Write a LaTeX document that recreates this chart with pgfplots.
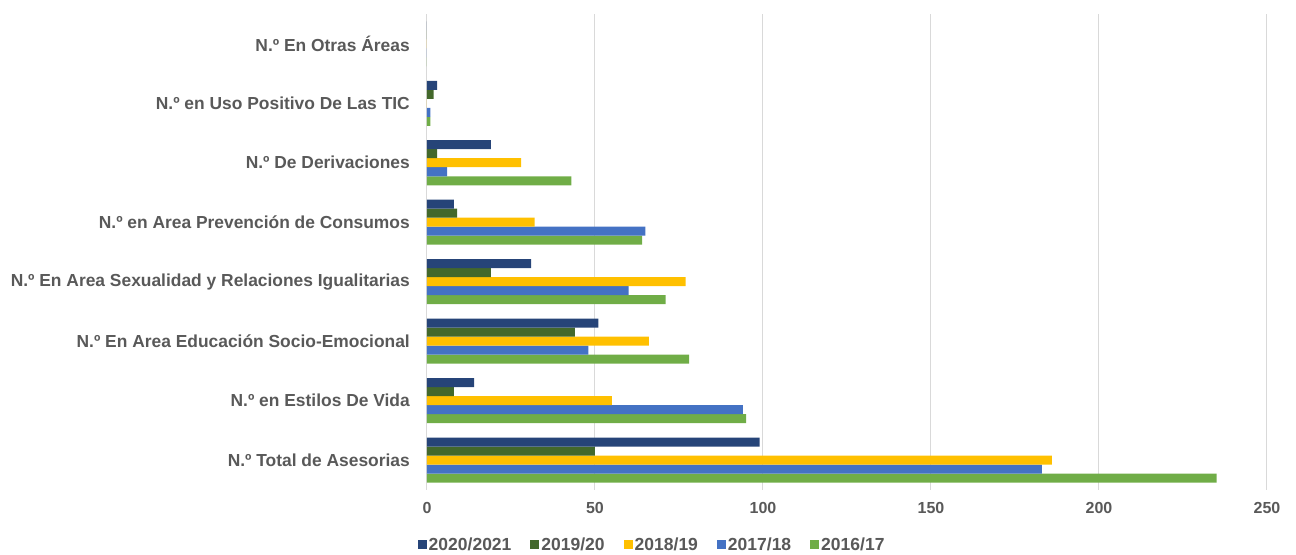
\documentclass[border=0pt]{standalone}
\usepackage{pgfplots}
\pgfplotsset{compat=1.18}
\usepackage{fontspec}
\setmainfont{Liberation Sans}
\definecolor{c2021}{HTML}{264478}
\definecolor{c1920}{HTML}{43682B}
\definecolor{c1819}{HTML}{FFC000}
\definecolor{c1718}{HTML}{4472C4}
\definecolor{c1617}{HTML}{70AD47}
\definecolor{txt}{HTML}{595959}
\definecolor{grd}{HTML}{D9D9D9}
\begin{document}
\begin{tikzpicture}
% page frame, same proportions as the reference (1 px = 1 pt)
\path (-427pt,-61pt) rectangle (869pt,490pt);
\begin{axis}[
	at={(0,0)}, anchor=south west,
	scale only axis, width=840pt, height=476pt,
	xbar=0pt, bar width=9pt,
	xmin=0, xmax=250, ymin=-0.5, ymax=7.5,
	xtick={0,50,...,250},
	ytick={0,...,7},
	yticklabels={N.º Total de Asesorias, N.º en Estilos De Vida, N.º En Area Educación Socio-Emocional, N.º En Area Sexualidad y Relaciones Igualitarias, N.º en Area Prevención de Consumos, N.º De Derivaciones, N.º en Uso Positivo De Las TIC, N.º En Otras Áreas},
	xmajorgrids, major grid style={grd, line width=1pt},
	axis line style={draw=none},
	major tick length=0pt,
	/pgf/number format/assume math mode=true,
	xticklabel style={font=\fontsize{16}{19}\selectfont\bfseries, text=txt, yshift=-8.5pt},
	yticklabel style={font=\fontsize{17.4}{20}\selectfont\bfseries, text=txt, inner sep=0pt, xshift=-17pt},
	legend style={at={(0.268,-0.1155)}, anchor=center, draw=none, legend columns=-1,
		font=\fontsize{17.5}{20}\selectfont\bfseries, text=txt, inner sep=0pt,
		nodes={inner sep=2pt},
		/tikz/every even column/.append style={column sep=17pt}},
	reverse legend,
	legend image code/.code={\fill[#1] (0pt,-4.5pt) rectangle (9pt,4.5pt);},
	every axis plot/.append style={draw=none},
]
% 2016/17
\addplot[fill=c1617] coordinates {(235,0) (95,1) (78,2) (71,3) (64,4) (43,5) (1,6) (0,7)};
% 2017/18
\addplot[fill=c1718] coordinates {(183,0) (94,1) (48,2) (60,3) (65,4) (6,5) (1,6) (0,7)};
% 2018/19
\addplot[fill=c1819] coordinates {(186,0) (55,1) (66,2) (77,3) (32,4) (28,5) (0,6) (0,7)};
% 2019/20
\addplot[fill=c1920] coordinates {(50,0) (8,1) (44,2) (19,3) (9,4) (3,5) (2,6) (0,7)};
% 2020/2021
\addplot[fill=c2021] coordinates {(99,0) (14,1) (51,2) (31,3) (8,4) (19,5) (3,6) (0,7)};
\legend{2016/17, 2017/18, 2018/19, 2019/20, 2020/2021}
\end{axis}
\end{tikzpicture}
\end{document}
